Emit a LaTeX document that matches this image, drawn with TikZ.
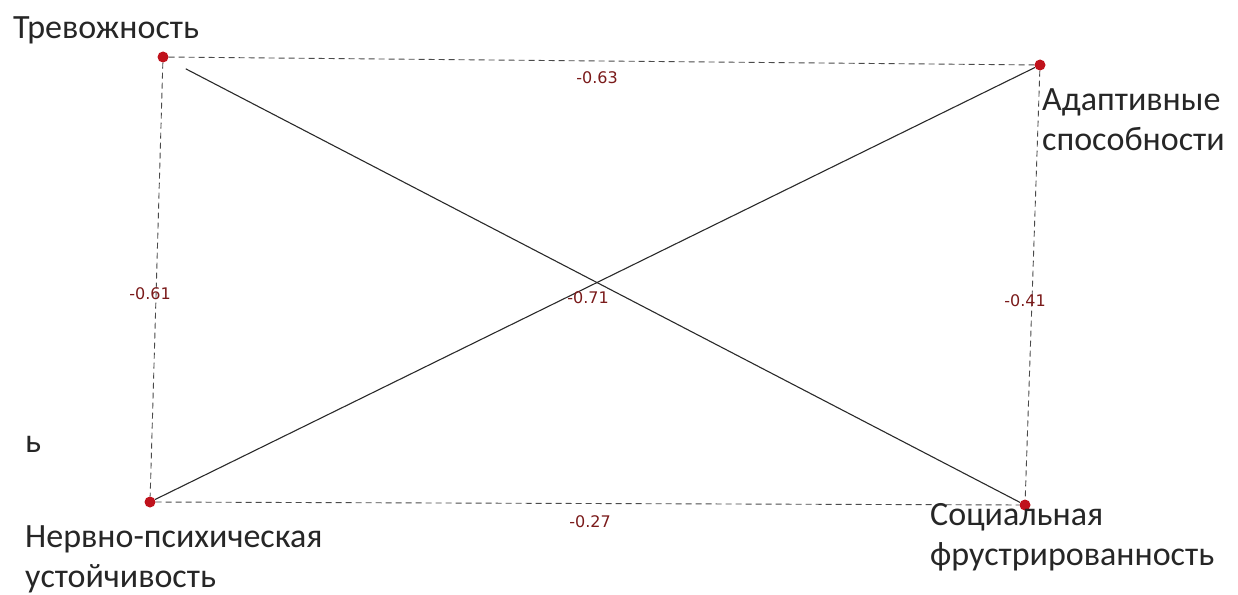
\documentclass[tikz,border=0pt]{standalone}
\usepackage{fontspec}
\setmainfont{Carlito}
\newfontfamily\numfont{DejaVu Sans}
\definecolor{dotred}{HTML}{C0121C}
\definecolor{numred}{HTML}{7A1A1A}
\definecolor{linegray}{HTML}{2A2A2A}
\definecolor{dashgray}{HTML}{4A4A4A}
\begin{document}
\begin{tikzpicture}[x=1pt,y=-1pt,
  pt/.style={circle,fill=dotred,inner sep=0pt,minimum size=11pt},
  bigtext/.style={font=\fontsize{34}{40}\selectfont,text=black!85,inner sep=0pt,anchor=base west,align=left},
  numlbl/.style={font=\numfont\fontsize{16}{17}\selectfont,text=numred,inner sep=1pt},
  solidline/.style={draw=linegray,line width=1.1pt},
  dashline/.style={draw=dashgray,line width=0.9pt,dash pattern=on 6pt off 4pt}]
\useasboundingbox (0,0) rectangle (1238,594);
% points
\node[pt] (t) at (163,57) {};
\node[pt] (a) at (1040,65) {};
\node[pt] (n) at (150,502) {};
\node[pt] (s) at (1025,505) {};
% connectors
\draw[dashline] (t) -- (a);
\draw[dashline] (t) -- (n);
\draw[dashline] (a) -- (s);
\draw[dashline] (n) -- (s);
\draw[solidline,shorten <=20pt] (t) -- (s);
\draw[solidline] (n) -- (a);
% edge labels
\node[numlbl] (l63) at (597,78) {-0.63};
\node[numlbl] (l61) at (150,294) {-0.61};
\node[numlbl] (l71) at (588,298) {-0.71};
\node[numlbl] (l41) at (1025,301) {-0.41};
\node[numlbl] (l27) at (590,522) {-0.27};
% labels (base anchor = baseline of the last line)
\node[bigtext] (tt) at (13,38) {Тревожность};
\node[bigtext] (at) at (1042,150) {Адаптивные\\способности};
\node[bigtext] (nt) at (25,587) {Нервно-психическая\\устойчивость};
\node[bigtext] (st) at (930,565) {Социальная\\фрустрированность};
\node[bigtext] (bb) at (25,452) {ь};
\end{tikzpicture}
\end{document}
